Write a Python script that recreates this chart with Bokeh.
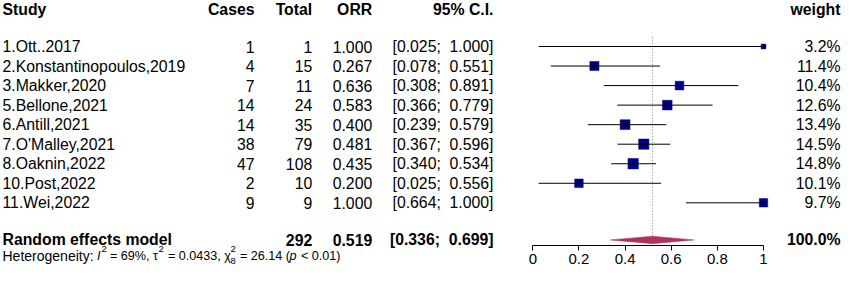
import math
from bokeh.plotting import figure
from bokeh.models import Range1d, LinearAxis, FixedTicker
from bokeh.core.properties import value
from bokeh.embed import file_html
from bokeh.resources import INLINE

# ---------------- data ----------------
studies = ["1.Ott..2017", "2.Konstantinopoulos,2019", "3.Makker,2020",
           "5.Bellone,2021", "6.Antill,2021", "7.O'Malley,2021",
           "8.Oaknin,2022", "10.Post,2022", "11.Wei,2022"]
cases = [1, 4, 7, 14, 14, 38, 47, 2, 9]
totals = [1, 15, 11, 24, 35, 79, 108, 10, 9]
orr = [1.000, 0.267, 0.636, 0.583, 0.400, 0.481, 0.435, 0.200, 1.000]
ci_low = [0.025, 0.078, 0.308, 0.366, 0.239, 0.367, 0.340, 0.025, 0.664]
ci_high = [1.000, 0.551, 0.891, 0.779, 0.579, 0.596, 0.534, 0.556, 1.000]
weights = [3.2, 11.4, 10.4, 12.6, 13.4, 14.5, 14.8, 10.1, 9.7]

pooled_label = "Random effects model"
pooled_total = 292
pooled_orr = 0.519
pooled_low = 0.336
pooled_high = 0.699
pooled_weight = 100.0

headers = ["Study", "Cases", "Total", "ORR", "95% C.I.", "weight"]
tick_values = [0, 0.2, 0.4, 0.6, 0.8, 1]
tick_labels = ["0", "0.2", "0.4", "0.6", "0.8", "1"]

het_I2 = "69%"
het_tau2 = "0.0433"
het_chi2 = "26.14"
het_df = "8"
het_p = "< 0.01"

# ---------------- layout ----------------
W, H = 842, 272
PX0, PXU = 532.3, 230.7          # canvas px of value 0, px per unit
ROW0, ROWH = 46.0, 19.54         # canvas px of first study row, px per row

def X(px):
    return (px - PX0) / PXU

FONT = value("Liberation Sans")
AXFONT = "Liberation Sans"
FS = "15.8px"
HFS0 = "14px"
HFS = "12.6px"
SFS = "9.5px"

p = figure(width=W, height=H, output_backend="svg", toolbar_location=None,
           x_range=Range1d(-PX0 / PXU, (W - PX0) / PXU),
           y_range=Range1d((H - ROW0) / ROWH, -ROW0 / ROWH),
           x_axis_type=None, y_axis_type=None, min_border=0,
           outline_line_color=None, background_fill_color="white",
           border_fill_color="white")

n = len(studies)
ys = list(range(n))
y_head = -1.89
y_pool = n + 0.9
y_het = n + 1.73
y_axis = n + 1.16

col_x = {"Study": X(2), "Cases": X(254), "Total": X(311.7), "ORR": X(371.7),
         "95% C.I.": X(493.0), "weight": X(840.0)}

def txt(x, y, t, align="right", bold=False, size=FS, italic=False):
    style = "bold" if bold else ("italic" if italic else "normal")
    p.text(x=x, y=y, text=t, text_align=align, text_baseline="middle",
           text_font=FONT, text_font_size=size, text_font_style=style,
           text_color="black")

def ci_text(lo, hi):
    return f"[{lo:.3f};\u00a0 {hi:.3f}]"

# headers
for h in headers:
    txt([col_x[h]], [y_head], [h], align="left" if h == "Study" else "right", bold=True)

# study rows
txt([col_x["Study"]] * n, ys, studies, align="left")
txt([col_x["Cases"]] * n, ys, [str(c) for c in cases])
txt([col_x["Total"]] * n, ys, [str(t) for t in totals])
txt([col_x["ORR"]] * n, ys, [f"{v:.3f}" for v in orr])
txt([col_x["95% C.I."]] * n, ys, [ci_text(l, u) for l, u in zip(ci_low, ci_high)])
txt([col_x["weight"]] * n, ys, [f"{w:.1f}%" for w in weights])

# pooled row
txt([col_x["Study"]], [y_pool], [pooled_label], align="left", bold=True)
txt([col_x["Total"]], [y_pool], [str(pooled_total)], bold=True)
txt([col_x["ORR"]], [y_pool], [f"{pooled_orr:.3f}"], bold=True)
txt([col_x["95% C.I."]], [y_pool], [ci_text(pooled_low, pooled_high)], bold=True)
txt([col_x["weight"]], [y_pool], [f"{pooled_weight:.1f}%"], bold=True)

# heterogeneity line (pieces)
y_sup = y_het - 0.36
y_sub = y_het + 0.24
txt([X(2)], [y_het], ["Heterogeneity:"], align="left", size=HFS0)
txt([X(96.5)], [y_het], ["I"], align="left", size=HFS, italic=True)
txt([X(101.0)], [y_sup], ["2"], align="left", size=SFS)
txt([X(109.5)], [y_het], [f"= {het_I2}, \u03c4"], align="left", size=HFS)
txt([X(158.0)], [y_sup], ["2"], align="left", size=SFS)
txt([X(167.5)], [y_het], [f"= {het_tau2}, \u03c7"], align="left", size=HFS)
txt([X(230.0)], [y_sup], ["2"], align="left", size=SFS)
txt([X(230.0)], [y_sub], [het_df], align="left", size=SFS)
txt([X(239.5)], [y_het], [f"= {het_chi2} ("], align="left", size=HFS)
txt([X(289.0)], [y_het], ["p"], align="left", size=HFS, italic=True)
txt([X(300.5)], [y_het], [f"{het_p})"], align="left", size=HFS)

# reference (pooled) dotted line
p.segment(x0=[pooled_orr], y0=[-0.5], x1=[pooled_orr], y1=[y_pool],
          line_color="#7f7f7f", line_width=1, line_dash="1 2")

# study boxes and CIs
p.scatter(x=orr, y=ys, marker="square", size=[2.7 * math.sqrt(w) for w in weights],
          fill_color="#00008B", line_color="#00008B", line_width=0.5)
p.segment(x0=ci_low, y0=ys, x1=ci_high, y1=ys, line_color="black", line_width=1)
p.scatter(x=orr, y=ys, marker="cross", size=5, line_color="black", line_width=1,
          line_alpha=0.8)

# pooled diamond
dh = 0.19
p.patch(x=[pooled_low, pooled_orr, pooled_high, pooled_orr],
        y=[y_pool, y_pool - dh, y_pool, y_pool + dh],
        fill_color="#B03060", line_color="#B03060", line_width=0.5)

# x axis
ax = LinearAxis(fixed_location=y_axis, bounds=(0, 1),
                ticker=FixedTicker(ticks=tick_values, minor_ticks=[]),
                major_label_overrides={v: l for v, l in zip(tick_values, tick_labels)},
                major_tick_out=5, major_tick_in=0, minor_tick_out=0, minor_tick_in=0,
                axis_line_color="black", axis_line_width=1,
                major_tick_line_color="black", major_tick_line_width=1,
                major_label_text_font=AXFONT,
                major_label_text_font_size="15px", major_label_text_color="black",
                major_label_standoff=4)
p.add_layout(ax, "below")

open("out.html", "w").write(file_html(p, INLINE))
